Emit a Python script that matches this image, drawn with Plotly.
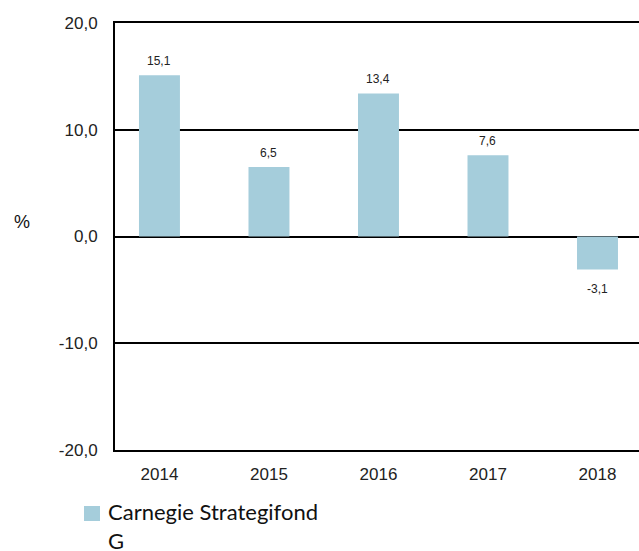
import plotly.graph_objects as go

years = ["2014", "2015", "2016", "2017", "2018"]
values = [15.1, 6.5, 13.4, 7.6, -3.1]
series_name = "Carnegie Strategifond<br>G"
y_ticks = [-20, -10, 0, 10, 20]
y_tick_text = ["-20,0", "-10,0", "0,0", "10,0", "20,0"]

labels = [f"{v:.1f}".replace(".", ",") for v in values]
BAR_COLOR = "#a5cddb"
TICK_FONT = "Liberation Sans, Arial, sans-serif"

W, H = 639, 551
# plot area in page pixels
PX0, PX1, PY0, PY1 = 115, 639, 23, 450
PW, PH = PX1 - PX0, PY1 - PY0


def px(x):
    return (x - PX0) / PW


def py(y):
    return (PY1 - y) / PH


fig = go.Figure()
fig.add_trace(go.Bar(
    x=years, y=values, name=series_name,
    marker=dict(color=BAR_COLOR, line=dict(width=0)),
    width=0.374, showlegend=False,
))

annotations = []
for i, (v, lab) in enumerate(zip(values, labels)):
    annotations.append(dict(
        x=i, y=v, xref="x", yref="y", text=lab, showarrow=False,
        yanchor="middle", yshift=14 if v >= 0 else -19,
        font=dict(family=TICK_FONT, size=12, color="#222"),
    ))

# axis title "%"
annotations.append(dict(
    text="%", xref="paper", yref="paper", x=px(21.5), y=py(222),
    showarrow=False, xanchor="center", yanchor="middle",
    font=dict(family=TICK_FONT, size=18, color="#111"),
))

# legend (manual)
annotations.append(dict(
    text=series_name, xref="paper", yref="paper",
    x=px(106), y=py(496),
    showarrow=False, xanchor="left", yanchor="top", align="left",
    font=dict(family="Lato, Gill Sans, sans-serif", size=22, color="#111"),
))

shapes = [dict(
    type="rect", xref="paper", yref="paper",
    x0=px(84), x1=px(100), y0=py(506), y1=py(521),
    fillcolor=BAR_COLOR, line=dict(width=0),
)]

fig.update_layout(
    width=W, height=H,
    margin=dict(l=PX0, r=W - PX1, t=PY0, b=H - PY1, autoexpand=False),
    plot_bgcolor="white", paper_bgcolor="white",
    showlegend=False,
    xaxis=dict(
        type="category", range=[-0.406, 4.379],
        showgrid=False, showline=True, mirror=True, linecolor="black", linewidth=2,
        ticks="", ticklabelstandoff=8,
        tickfont=dict(family=TICK_FONT, size=17, color="#222"),
    ),
    yaxis=dict(
        range=[-20, 20], tickvals=y_ticks, ticktext=y_tick_text,
        showgrid=True, gridcolor="black", gridwidth=2,
        zeroline=True, zerolinecolor="black", zerolinewidth=2,
        showline=True, linecolor="black", linewidth=2,
        ticks="", ticklabelstandoff=12,
        tickfont=dict(family=TICK_FONT, size=17, color="#222"),
    ),
    annotations=annotations,
    shapes=shapes,
)

fig.write_html(
    "out.html",
    config={"displayModeBar": False},
    post_script="document.body.style.margin='0';document.body.style.overflow='hidden';",
)
